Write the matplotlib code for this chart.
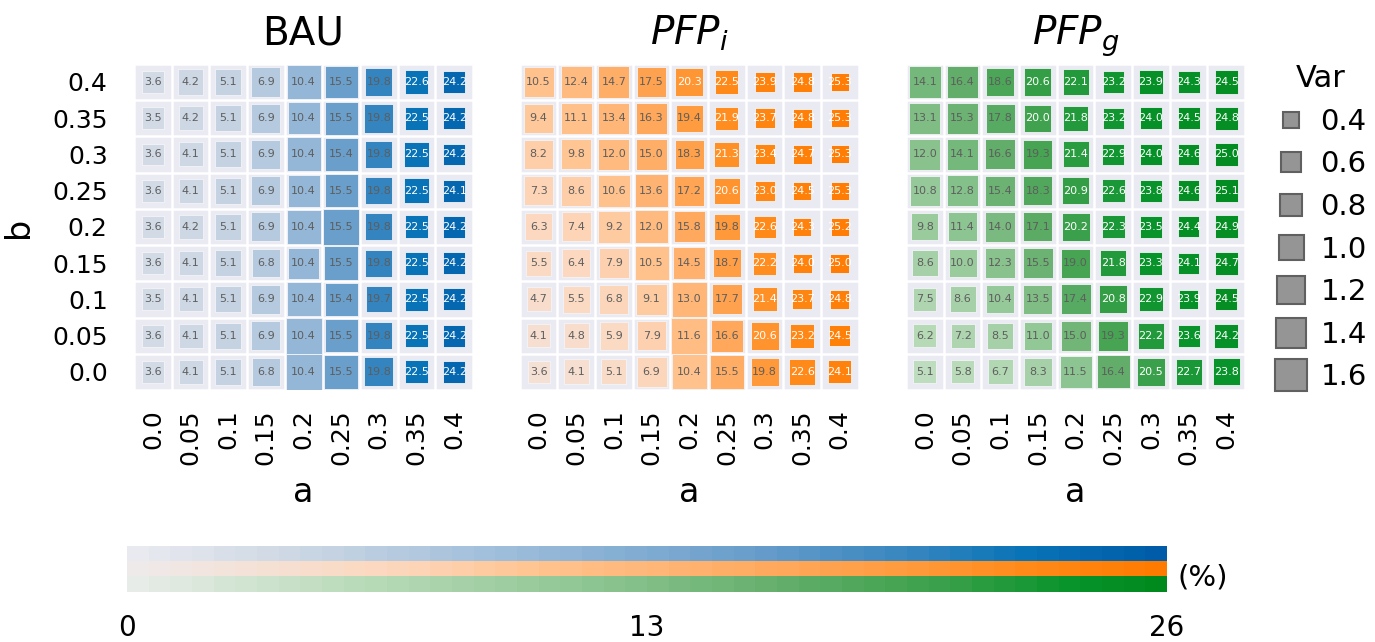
import numpy as np
import matplotlib
matplotlib.use('Agg')
import matplotlib.pyplot as plt
from matplotlib.colors import LinearSegmentedColormap, Normalize
from matplotlib.cm import ScalarMappable
from matplotlib.lines import Line2D

# Grid labels (rows listed from b = 0.4 at the top down to b = 0.0)
a_labels = ['0.0', '0.05', '0.1', '0.15', '0.2', '0.25', '0.3', '0.35', '0.4']
b_labels = ['0.4', '0.35', '0.3', '0.25', '0.2', '0.15', '0.1', '0.05', '0.0']

# Mean share (%) per scenario
bau_mean = [
    [3.6, 4.2, 5.1, 6.9, 10.4, 15.5, 19.8, 22.6, 24.2],
    [3.5, 4.2, 5.1, 6.9, 10.4, 15.5, 19.8, 22.5, 24.2],
    [3.6, 4.1, 5.1, 6.9, 10.4, 15.4, 19.8, 22.5, 24.2],
    [3.6, 4.1, 5.1, 6.9, 10.4, 15.5, 19.8, 22.5, 24.1],
    [3.6, 4.2, 5.1, 6.9, 10.4, 15.5, 19.8, 22.5, 24.2],
    [3.6, 4.1, 5.1, 6.8, 10.4, 15.5, 19.8, 22.5, 24.2],
    [3.5, 4.1, 5.1, 6.9, 10.4, 15.4, 19.7, 22.5, 24.2],
    [3.6, 4.1, 5.1, 6.9, 10.4, 15.5, 19.8, 22.5, 24.2],
    [3.6, 4.1, 5.1, 6.8, 10.4, 15.5, 19.8, 22.5, 24.2],
]
pfpi_mean = [
    [10.5, 12.4, 14.7, 17.5, 20.3, 22.5, 23.9, 24.8, 25.3],
    [9.4, 11.1, 13.4, 16.3, 19.4, 21.9, 23.7, 24.8, 25.3],
    [8.2, 9.8, 12.0, 15.0, 18.3, 21.3, 23.4, 24.7, 25.3],
    [7.3, 8.6, 10.6, 13.6, 17.2, 20.6, 23.0, 24.5, 25.3],
    [6.3, 7.4, 9.2, 12.0, 15.8, 19.8, 22.6, 24.3, 25.2],
    [5.5, 6.4, 7.9, 10.5, 14.5, 18.7, 22.2, 24.0, 25.0],
    [4.7, 5.5, 6.8, 9.1, 13.0, 17.7, 21.4, 23.7, 24.8],
    [4.1, 4.8, 5.9, 7.9, 11.6, 16.6, 20.6, 23.2, 24.5],
    [3.6, 4.1, 5.1, 6.9, 10.4, 15.5, 19.8, 22.6, 24.1],
]
pfpg_mean = [
    [14.1, 16.4, 18.6, 20.6, 22.1, 23.2, 23.9, 24.3, 24.5],
    [13.1, 15.3, 17.8, 20.0, 21.8, 23.2, 24.0, 24.5, 24.8],
    [12.0, 14.1, 16.6, 19.3, 21.4, 22.9, 24.0, 24.6, 25.0],
    [10.8, 12.8, 15.4, 18.3, 20.9, 22.6, 23.8, 24.6, 25.1],
    [9.8, 11.4, 14.0, 17.1, 20.2, 22.3, 23.5, 24.4, 24.9],
    [8.6, 10.0, 12.3, 15.5, 19.0, 21.8, 23.3, 24.1, 24.7],
    [7.5, 8.6, 10.4, 13.5, 17.4, 20.8, 22.9, 23.9, 24.5],
    [6.2, 7.2, 8.5, 11.0, 15.0, 19.3, 22.2, 23.6, 24.2],
    [5.1, 5.8, 6.7, 8.3, 11.5, 16.4, 20.5, 22.7, 23.8],
]

# Variance per cell (drawn as square size)
bau_var = [
    [0.77, 1.04, 1.08, 1.35, 1.85, 1.74, 1.17, 0.85, 0.77],
    [0.77, 0.92, 1.08, 1.35, 1.64, 1.74, 1.35, 0.85, 0.77],
    [0.77, 0.92, 1.08, 1.35, 1.85, 1.74, 1.17, 1.00, 0.77],
    [0.77, 0.92, 1.08, 1.35, 1.64, 1.74, 1.17, 1.00, 0.77],
    [0.77, 0.92, 1.08, 1.35, 1.85, 2.07, 1.17, 0.85, 0.77],
    [0.77, 0.92, 1.08, 1.25, 1.54, 1.85, 1.17, 0.85, 0.77],
    [0.77, 0.92, 1.08, 1.35, 1.85, 1.74, 1.08, 0.85, 0.77],
    [0.77, 0.92, 1.08, 1.35, 2.07, 1.74, 1.17, 0.85, 0.77],
    [0.77, 0.92, 1.08, 1.25, 2.07, 1.85, 1.35, 0.85, 0.77],
]
pfpi_var = [
    [1.44, 1.54, 1.54, 1.35, 1.25, 0.85, 0.64, 0.58, 0.52],
    [1.35, 1.54, 1.54, 1.54, 1.17, 0.85, 0.64, 0.58, 0.52],
    [1.35, 1.44, 1.54, 1.54, 1.35, 1.00, 0.64, 0.58, 0.52],
    [1.35, 1.44, 1.64, 1.74, 1.44, 1.08, 0.64, 0.52, 0.52],
    [1.17, 1.35, 1.64, 1.74, 1.54, 1.08, 0.77, 0.52, 0.52],
    [1.00, 1.25, 1.44, 1.85, 1.64, 1.25, 0.85, 0.58, 0.58],
    [0.92, 1.17, 1.35, 1.54, 1.96, 1.44, 0.92, 0.64, 0.58],
    [0.85, 1.00, 1.25, 1.35, 2.07, 1.64, 1.25, 0.92, 0.71],
    [0.77, 1.00, 1.00, 1.44, 1.96, 1.85, 1.25, 1.08, 0.85],
]
pfpg_var = [
    [1.64, 1.54, 1.25, 1.17, 1.08, 0.71, 0.92, 0.77, 0.85],
    [1.54, 1.54, 1.35, 1.17, 1.00, 0.71, 0.77, 0.77, 0.85],
    [1.54, 1.54, 1.44, 1.35, 1.08, 0.77, 0.77, 0.71, 0.85],
    [1.44, 1.54, 1.44, 1.35, 1.17, 0.85, 0.77, 0.71, 0.85],
    [1.17, 1.35, 1.44, 1.35, 1.25, 0.85, 0.77, 0.71, 0.85],
    [1.08, 1.25, 1.44, 1.44, 1.35, 1.08, 0.85, 0.71, 0.85],
    [0.85, 1.08, 1.25, 1.35, 1.44, 1.25, 0.92, 0.58, 0.77],
    [0.85, 0.92, 1.08, 1.25, 1.44, 1.44, 1.08, 0.77, 0.92],
    [0.85, 0.85, 1.00, 1.25, 1.64, 1.74, 1.25, 1.08, 1.17],
]

legend_var = [0.4, 0.6, 0.8, 1.0, 1.2, 1.4, 1.6]

# Colour ramps per scenario
blue = LinearSegmentedColormap.from_list('bau', [
    (0.0, '#e9e9f0'), (0.14, '#cfd9e4'), (0.4, '#95b8d8'), (0.6, '#6a9ecb'),
    (0.76, '#3685bf'), (0.87, '#0973b7'), (1.0, '#005ca8')], N=48)
orange = LinearSegmentedColormap.from_list('pfpi', [
    (0.0, '#eeeaea'), (0.14, '#f6e0d2'), (0.27, '#fdd5b8'), (0.4, '#ffc38e'),
    (0.6, '#ffab63'), (0.76, '#ff9a3c'), (0.87, '#ff8a1a'), (1.0, '#ff7b00')], N=48)
green = LinearSegmentedColormap.from_list('pfpg', [
    (0.0, '#e8ece8'), (0.2, '#bcdcbc'), (0.32, '#a6d1a8'), (0.44, '#8fc693'),
    (0.63, '#64ae6b'), (0.79, '#3aa04a'), (0.92, '#07922a'), (1.0, '#008a1e')], N=48)

norm = Normalize(0, 26)
SIZE = 324  # points^2 per unit of variance


def draw_panel(ax, mean, var, cmap, title, first):
    mean = np.array(mean)
    var = np.array(var)
    ny, nx = mean.shape
    xx, yy = np.meshgrid(np.arange(nx), np.arange(ny)[::-1])
    ax.set_facecolor('#eaeaf2')
    ax.scatter(xx.ravel(), yy.ravel(), s=var.ravel() * SIZE, c=mean.ravel(),
               cmap=cmap, norm=norm, marker='s', edgecolors='#f4f4f8',
               linewidths=0.6, zorder=3)
    for i in range(ny):
        for j in range(nx):
            v = mean[i, j]
            ax.text(j, ny - 1 - i, f'{v:.1f}', ha='center', va='center',
                    fontsize=8, color='white' if v >= 20 else '#5e5e5e',
                    zorder=4)
    ax.set_xlim(-0.5, nx - 0.5)
    ax.set_ylim(-0.5, ny - 0.5)
    ax.set_xticks(np.arange(nx))
    ax.set_xticklabels(a_labels, rotation=90, fontsize=18)
    ax.set_xticks(np.arange(nx + 1) - 0.5, minor=True)
    ax.set_yticks(np.arange(ny + 1) - 0.5, minor=True)
    ax.grid(which='minor', color='white', linewidth=1.8)
    ax.grid(which='major', visible=False)
    ax.tick_params(which='both', length=0)
    ax.tick_params(axis='x', pad=14)
    ax.set_yticks(np.arange(ny))
    if first:
        ax.set_yticklabels(b_labels[::-1], fontsize=18)
        ax.tick_params(axis='y', pad=19)
        ax.set_ylabel('b', fontsize=24, labelpad=12)
    else:
        ax.set_yticklabels([])
    ax.set_xlabel('a', fontsize=24, labelpad=8)
    ax.set_title(title, fontsize=28, pad=14)
    for sp in ax.spines.values():
        sp.set_visible(False)
    ax.set_axisbelow(True)


fig = plt.figure(figsize=(13.75, 6.42), dpi=100)

panels = [
    (0.0975, bau_mean, bau_var, blue, 'BAU'),
    (0.378, pfpi_mean, pfpi_var, orange, r'$PFP_i$'),
    (0.659, pfpg_mean, pfpg_var, green, r'$PFP_g$'),
]
for k, (left, mean, var, cmap, title) in enumerate(panels):
    ax = fig.add_axes([left, 0.3925, 0.2465, 0.508])
    draw_panel(ax, mean, var, cmap, title, k == 0)

# Size legend
handles = [Line2D([], [], marker='s', linestyle='none',
                  markersize=np.sqrt(v * SIZE), markerfacecolor='#959595',
                  markeredgecolor='#606060', markeredgewidth=1.5)
           for v in legend_var]
leg = fig.legend(handles, [f'{v:.1f}' for v in legend_var], title='Var',
                 loc='upper left', bbox_to_anchor=(0.918, 0.918),
                 frameon=False, fontsize=21, title_fontsize=22,
                 labelspacing=0.5, handletextpad=0.4, handlelength=1.2,
                 borderaxespad=0)

# Stacked colour bars
bottoms = [0.1246, 0.1012, 0.0779]
for b, cmap in zip(bottoms, [blue, orange, green]):
    cax = fig.add_axes([0.0924, b, 0.7564, 0.0242])
    cb = fig.colorbar(ScalarMappable(norm=norm, cmap=cmap), cax=cax,
                      orientation='horizontal')
    cb.outline.set_visible(False)
    cax.tick_params(length=0)
    if b == bottoms[-1]:
        cb.set_ticks([0, 13, 26])
        cax.tick_params(labelsize=20, pad=16)
    else:
        cb.set_ticks([])
fig.text(0.856, 0.1, '(%)', fontsize=21, va='center', ha='left')

fig.savefig('out.png', dpi=100)
